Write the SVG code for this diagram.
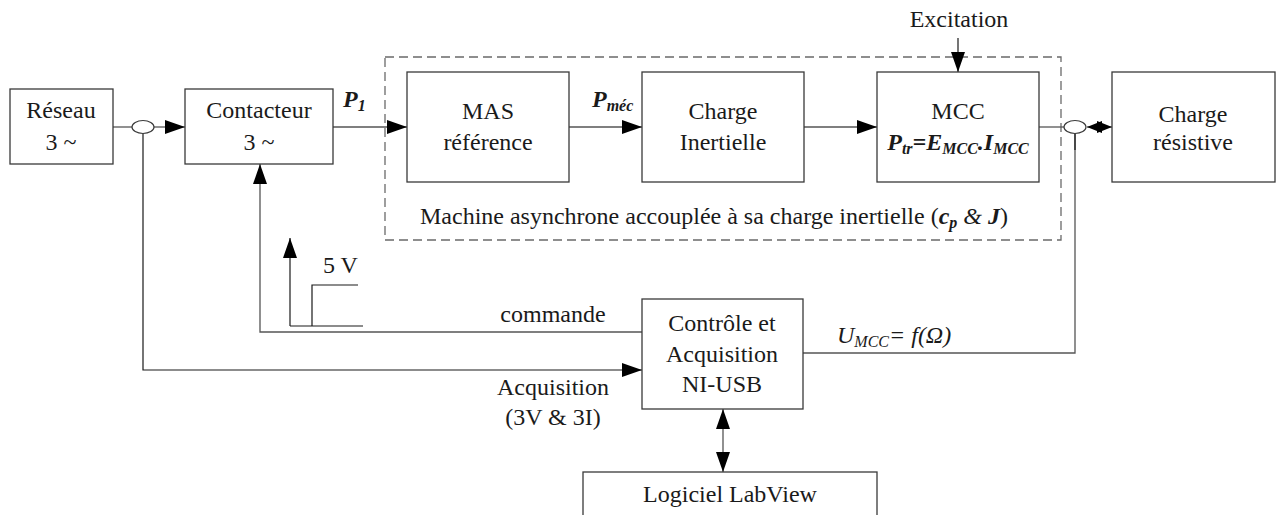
<svg xmlns="http://www.w3.org/2000/svg" width="1277" height="515" viewBox="0 0 1277 515">
  <style>
    text { font-family: 'Liberation Serif', 'DejaVu Serif', serif; font-size: 24px; fill: #1a1a1a; }
    .c { text-anchor: middle; }
    .bi { font-weight: bold; font-style: italic; }
    .it { font-style: italic; }
    .sub { font-size: 16px; }
    .box { fill: #ffffff; stroke: #3a3a3a; stroke-width: 1.3; }
    .ln { fill: none; stroke: #555555; stroke-width: 1.3; }
    .lk { fill: none; stroke: #1a1a1a; stroke-width: 1.2; }
    .tap { fill: #ffffff; stroke: #3a3a3a; stroke-width: 1.2; }
    .dash { fill: none; stroke: #6a6a6a; stroke-width: 1.3; stroke-dasharray: 9 5; }
  </style>
  <defs>
    <marker id="ah" viewBox="0 0 20 14" refX="20" refY="7" markerWidth="20" markerHeight="14" markerUnits="userSpaceOnUse" orient="auto-start-reverse">
      <path d="M0,0 L20,7 L0,14 z" fill="#000"/>
    </marker>
    <marker id="ahs" viewBox="0 0 15 12" refX="15" refY="6" markerWidth="15" markerHeight="12" markerUnits="userSpaceOnUse" orient="auto-start-reverse">
      <path d="M0,0 L15,6 L0,12 z" fill="#000"/>
    </marker>
  </defs>

  <!-- coupled machine enclosure -->
  <g id="ensemble">
    <rect class="dash" x="385" y="57" width="676" height="183"/>
    <text x="420" y="224" font-family="Liberation Serif, serif">Machine asynchrone accouplée à sa charge inertielle (<tspan class="bi">c</tspan><tspan class="bi sub" dy="4">p</tspan><tspan dy="-4"> </tspan><tspan class="it">&amp;</tspan><tspan> </tspan><tspan class="bi">J</tspan>)</text>
  </g>

  <g id="connectors">
    <!-- power path -->
    <line class="ln" x1="113" y1="127" x2="132" y2="127"/>
    <line class="ln" x1="154" y1="127" x2="185" y2="127" marker-end="url(#ah)"/>
    <line class="ln" x1="333" y1="127" x2="407" y2="127" marker-end="url(#ah)"/>
    <line class="ln" x1="569" y1="127" x2="642" y2="127" marker-end="url(#ah)"/>
    <line class="ln" x1="804" y1="127" x2="877" y2="127" marker-end="url(#ah)"/>
    <line class="ln" x1="1039" y1="127" x2="1064" y2="127"/>
    <line class="ln" x1="1087" y1="127" x2="1112" y2="127" marker-start="url(#ahs)" marker-end="url(#ahs)"/>
    <!-- excitation -->
    <line class="lk" x1="958" y1="38" x2="958" y2="72" marker-end="url(#ah)"/>
    <!-- voltage/current acquisition -->
    <polyline class="lk" points="143,133 143,370 642,370" marker-end="url(#ah)"/>
    <!-- command -->
    <polyline class="ln" points="642,332 260,332 260,164" marker-end="url(#ah)"/>
    <!-- speed image -->
    <polyline class="ln" points="803,353 1075,353 1075,133"/>
    <line class="lk" x1="1075" y1="133" x2="1075" y2="150"/>
    <!-- USB link -->
    <line class="ln" x1="723" y1="409" x2="723" y2="472" marker-start="url(#ah)" marker-end="url(#ah)"/>
    <!-- 5 V step sketch -->
    <line class="lk" x1="290" y1="326" x2="290" y2="238" marker-end="url(#ah)"/>
    <line class="lk" x1="290" y1="326" x2="363" y2="326"/>
    <polyline class="lk" points="312,326 312,285 358,285"/>
  </g>

  <ellipse class="tap" cx="143" cy="127" rx="11" ry="6.5"/>
  <ellipse class="tap" cx="1075" cy="127" rx="11" ry="6.5"/>

  <g id="reseau">
    <rect class="box" x="10" y="89" width="103" height="75"/>
    <text class="c" x="61" y="118">Réseau</text>
    <text class="c" x="61" y="150">3 ~</text>
  </g>

  <g id="contacteur">
    <rect class="box" x="185" y="89" width="148" height="75"/>
    <text class="c" x="259" y="118">Contacteur</text>
    <text class="c" x="259" y="150">3 ~</text>
  </g>

  <g id="mas">
    <rect class="box" x="407" y="72" width="162" height="110"/>
    <text class="c" x="488" y="119">MAS</text>
    <text class="c" x="488" y="150">référence</text>
  </g>

  <g id="charge-inertielle">
    <rect class="box" x="642" y="72" width="162" height="110"/>
    <text class="c" x="723" y="119">Charge</text>
    <text class="c" x="723" y="150">Inertielle</text>
  </g>

  <g id="mcc">
    <rect class="box" x="877" y="72" width="162" height="110"/>
    <text class="c" x="958" y="119">MCC</text>
    <text class="c bi" x="958" y="150">P<tspan class="sub" dy="4">tr</tspan><tspan dy="-4">=E</tspan><tspan class="sub" dy="4">MCC</tspan><tspan dy="-4">.I</tspan><tspan class="sub" dy="4">MCC</tspan></text>
  </g>

  <g id="charge-resistive">
    <rect class="box" x="1112" y="72" width="163" height="110"/>
    <text class="c" x="1193" y="122">Charge</text>
    <text class="c" x="1193" y="150">résistive</text>
  </g>

  <g id="ni-usb">
    <rect class="box" x="642" y="299" width="161" height="110"/>
    <text class="c" x="722" y="331">Contrôle et</text>
    <text class="c" x="722" y="362">Acquisition</text>
    <text class="c" x="722" y="392">NI-USB</text>
  </g>

  <g id="labview">
    <rect class="box" x="583" y="472" width="294" height="60"/>
    <text class="c" x="730" y="502">Logiciel LabView</text>
  </g>

  <g id="labels">
    <text x="959" y="27" class="c">Excitation</text>
    <text class="bi" x="343" y="107">P<tspan class="sub" dy="4">1</tspan></text>
    <text class="bi" x="592" y="107">P<tspan class="sub" dy="4">méc</tspan></text>
    <text x="323" y="273">5 V</text>
    <text class="c" x="553" y="322">commande</text>
    <text class="c" x="553" y="395">Acquisition</text>
    <text class="c" x="553" y="425">(3V &amp; 3I)</text>
    <text class="it" x="837" y="343">U<tspan class="sub" dy="4">MCC</tspan><tspan dy="-4">= f(Ω)</tspan></text>
  </g>
</svg>
